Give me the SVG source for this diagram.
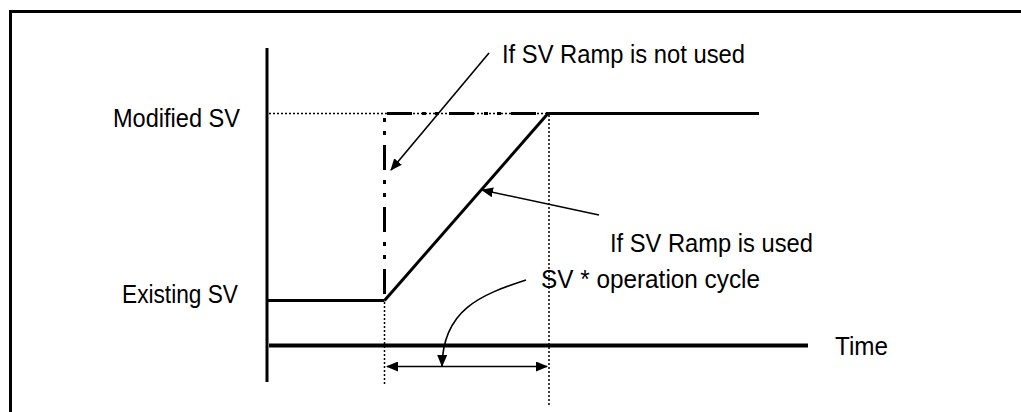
<svg xmlns="http://www.w3.org/2000/svg" width="1021" height="412" viewBox="0 0 1021 412">
<style>
text{font-family:"Liberation Sans",Arial,sans-serif;font-size:25.5px;fill:#000}
.thick{stroke:#000;stroke-width:3;fill:none}
.guide{stroke:#000;stroke-width:1.5;stroke-dasharray:2 2;fill:none}
.ann{stroke:#000;stroke-width:1.6;fill:none}
</style>
<defs>
<marker id="ah" viewBox="0 0 12 10" refX="11" refY="5" markerWidth="12" markerHeight="10" markerUnits="userSpaceOnUse" orient="auto-start-reverse">
<path d="M0,0 L12,5 L0,10 z" fill="#000"/>
</marker>
</defs>
<rect x="10.5" y="11.5" width="1040" height="440" fill="#fff" stroke="#000" stroke-width="3"/>
<g id="axes">
<line x1="267" y1="48" x2="267" y2="382" stroke="#000" stroke-width="3"/>
<line x1="269" y1="345.5" x2="808" y2="345.5" stroke="#000" stroke-width="4"/>
</g>
<g id="guides">
<line class="guide" x1="269" y1="113.5" x2="548" y2="113.5"/>
<line class="guide" x1="384.5" y1="302" x2="384.5" y2="384"/>
<line class="guide" x1="549" y1="115" x2="549" y2="405"/>
</g>
<g id="curves">
<line class="thick" x1="267" y1="300.5" x2="384.5" y2="300.5"/>
<line class="thick" x1="384.5" y1="300.5" x2="548" y2="113.5"/>
<line class="thick" x1="548" y1="113.5" x2="759" y2="113.5"/>
<line class="thick" x1="387" y1="113.5" x2="548" y2="113.5" stroke-dasharray="25 10 4 9 4 10"/>
<line class="thick" x1="384.5" y1="113" x2="384.5" y2="300" stroke-dasharray="25 10 4 9 4 10" stroke-dashoffset="30"/>
</g>
<g id="connectors">
<line class="ann" x1="489" y1="53" x2="391" y2="170" marker-end="url(#ah)"/>
<line class="ann" x1="599" y1="215" x2="482" y2="190" marker-end="url(#ah)"/>
<path class="ann" d="M526,280 C480,295 443,310 442,366" marker-end="url(#ah)"/>
<line class="ann" x1="387" y1="366.5" x2="547" y2="366.5" marker-start="url(#ah)" marker-end="url(#ah)"/>
</g>
<g id="labels">
<text id="lbl-notused" x="502" y="63" textLength="243" lengthAdjust="spacingAndGlyphs">If SV Ramp is not used</text>
<text id="lbl-modified" x="113" y="127" textLength="127" lengthAdjust="spacingAndGlyphs">Modified SV</text>
<text id="lbl-existing" x="122" y="303" textLength="116" lengthAdjust="spacingAndGlyphs">Existing SV</text>
<text id="lbl-used" x="610" y="252" textLength="203" lengthAdjust="spacingAndGlyphs">If SV Ramp is used</text>
<text id="lbl-cycle" x="541" y="288" textLength="219" lengthAdjust="spacingAndGlyphs">SV * operation cycle</text>
<text id="lbl-time" x="835" y="355" textLength="53" lengthAdjust="spacingAndGlyphs">Time</text>
</g>
</svg>
